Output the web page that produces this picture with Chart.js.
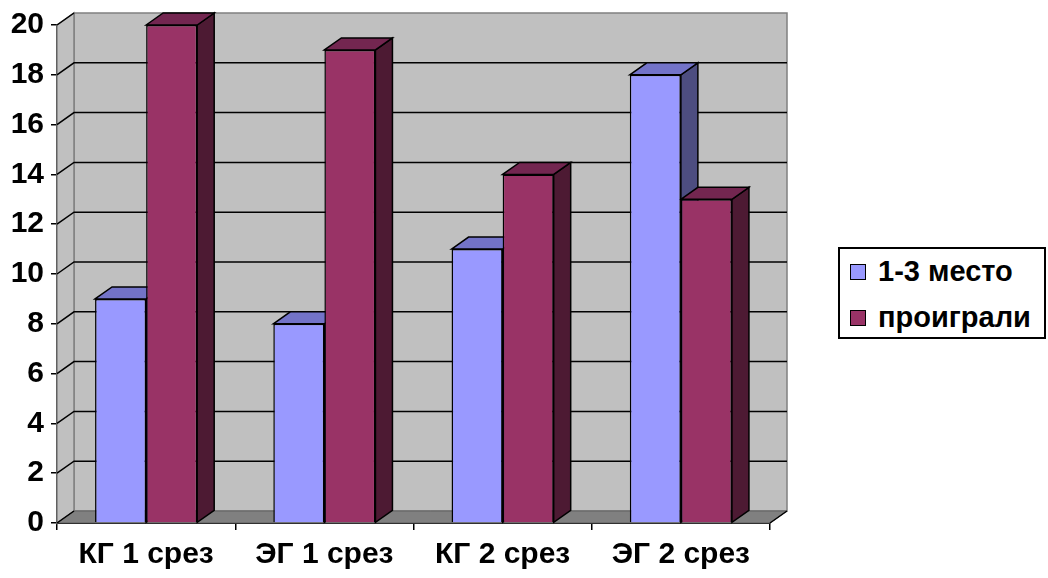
<!DOCTYPE html>
<html>
<head>
<meta charset="utf-8">
<script src="https://cdn.jsdelivr.net/npm/chart.js@4/dist/chart.umd.min.js"></script>
<style>
html,body{margin:0;padding:0;background:#fff;}
#wrap{position:relative;width:1048px;height:578px;}
#legend{position:absolute;left:838px;top:247px;width:208px;height:92px;border:2px solid #000;box-sizing:border-box;background:#fff;font:bold 29px "Liberation Sans",Arial,sans-serif;color:#000;}
.item{position:absolute;left:10px;display:flex;align-items:center;white-space:nowrap;}
.sw{width:16px;height:16px;border:1.5px solid #000;box-sizing:border-box;margin-right:12px;}
</style>
</head>
<body>
<div id="wrap">
<canvas id="c" width="1048" height="578"></canvas>
<div id="legend"></div>
</div>
<script>
const categories = ["КГ 1 срез", "ЭГ 1 срез", "КГ 2 срез", "ЭГ 2 срез"];
const seriesNames = ["1-3 место", "проиграли"];
const places = [9, 8, 11, 18];
const lost = [20, 19, 14, 13];
const yTicks = [0, 2, 4, 6, 8, 10, 12, 14, 16, 18, 20];

const frontColors = ["#9999FF", "#993366"];
const topColors = ["#7373C8", "#732650"];
const sideColors = ["#4D4D80", "#4D1A33"];
const DX = 17, DY = -12;

function poly(ctx, pts, fill, stroke, lw) {
  ctx.beginPath();
  ctx.moveTo(pts[0][0], pts[0][1]);
  for (let i = 1; i < pts.length; i++) ctx.lineTo(pts[i][0], pts[i][1]);
  ctx.closePath();
  if (fill) { ctx.fillStyle = fill; ctx.fill(); }
  if (stroke) { ctx.strokeStyle = stroke; ctx.lineWidth = lw || 1; ctx.stroke(); }
}

const walls = {
  id: 'walls',
  beforeDatasetsDraw(chart) {
    const ctx = chart.ctx;
    const a = chart.chartArea;
    const y = chart.scales.y;
    const L = a.left, R = a.right, T = y.getPixelForValue(20), B = y.getPixelForValue(0);
    ctx.save();
    poly(ctx, [[L + DX, T + DY], [R + DX, T + DY], [R + DX, B + DY], [L + DX, B + DY]], "#C0C0C0", "#808080", 1.5);
    poly(ctx, [[L, T], [L + DX, T + DY], [L + DX, B + DY], [L, B]], "#C0C0C0", "#808080", 1.5);
    poly(ctx, [[L, B], [L + DX, B + DY], [R + DX, B + DY], [R, B]], "#808080", "#606060", 1);
    ctx.strokeStyle = "#000";
    ctx.lineWidth = 1.5;
    yTicks.forEach(v => {
      if (v === 0 || v === 20) return;
      const py = y.getPixelForValue(v);
      ctx.beginPath();
      ctx.moveTo(L, py);
      ctx.lineTo(L + DX, py + DY);
      ctx.lineTo(R + DX, py + DY);
      ctx.stroke();
    });
    ctx.beginPath(); ctx.moveTo(L, T); ctx.lineTo(L + DX, T + DY); ctx.stroke();
    ctx.beginPath(); ctx.moveTo(L, B); ctx.lineTo(L + DX, B + DY); ctx.stroke();
    ctx.beginPath(); ctx.moveTo(R, B); ctx.lineTo(R + DX, B + DY); ctx.stroke();
    const n = chart.data.labels.length;
    for (let i = 0; i < n; i++) {
      chart.data.datasets.forEach((ds, d) => {
        const el = chart.getDatasetMeta(d).data[i];
        const l = el.x - el.width / 2, r = el.x + el.width / 2, t = el.y, b = el.base;
        poly(ctx, [[r, t], [r + DX, t + DY], [r + DX, b + DY], [r, b]], sideColors[d], "#000", 1.5);
        poly(ctx, [[l, t], [l + DX, t + DY], [r + DX, t + DY], [r, t]], topColors[d], "#000", 1.5);
      });
    }
    ctx.restore();
  }
};

const font = { family: "'Liberation Sans', Arial, sans-serif", size: 30, weight: "bold" };

new Chart(document.getElementById('c'), {
  type: 'bar',
  data: {
    labels: categories,
    datasets: [
      { label: seriesNames[0], data: places, backgroundColor: frontColors[0], borderColor: "#000", borderWidth: 1.5 },
      { label: seriesNames[1], data: lost, backgroundColor: frontColors[1], borderColor: "#000", borderWidth: 1.5 }
    ]
  },
  options: {
    responsive: false,
    animation: false,
    events: [],
    layout: { padding: { top: 25, right: 278, left: 0, bottom: 0 } },
    datasets: { bar: { categoryPercentage: 0.573, barPercentage: 1.0 } },
    plugins: { legend: { display: false }, tooltip: { enabled: false } },
    scales: {
      x: {
        grid: { display: true, offset: true, drawOnChartArea: false, drawTicks: true, tickLength: 7, color: "#000", lineWidth: 1.5 },
        border: { display: true, color: "#000", width: 2 },
        ticks: { color: "#000", font: font, padding: 7, maxRotation: 0 },
        afterFit(s) { s.height = 55; }
      },
      y: {
        min: 0, max: 20,
        afterBuildTicks(s) { s.ticks = yTicks.map(v => ({ value: v })); },
        grid: { display: true, drawOnChartArea: false, drawTicks: true, tickLength: 6, color: "#000", lineWidth: 1.5 },
        border: { display: true, color: "#000", width: 2 },
        ticks: { color: "#000", font: font, padding: 7 },
        afterFit(s) { s.width = 57; }
      }
    }
  },
  plugins: [walls]
});

const lg = document.getElementById('legend');
seriesNames.forEach((name, i) => {
  const it = document.createElement('div');
  it.className = 'item';
  it.style.top = (i === 0 ? 6 : 52) + 'px';
  const sw = document.createElement('span');
  sw.className = 'sw';
  sw.style.background = frontColors[i];
  const tx = document.createElement('span');
  tx.textContent = name;
  it.appendChild(sw); it.appendChild(tx);
  lg.appendChild(it);
});
</script>
</body>
</html>
